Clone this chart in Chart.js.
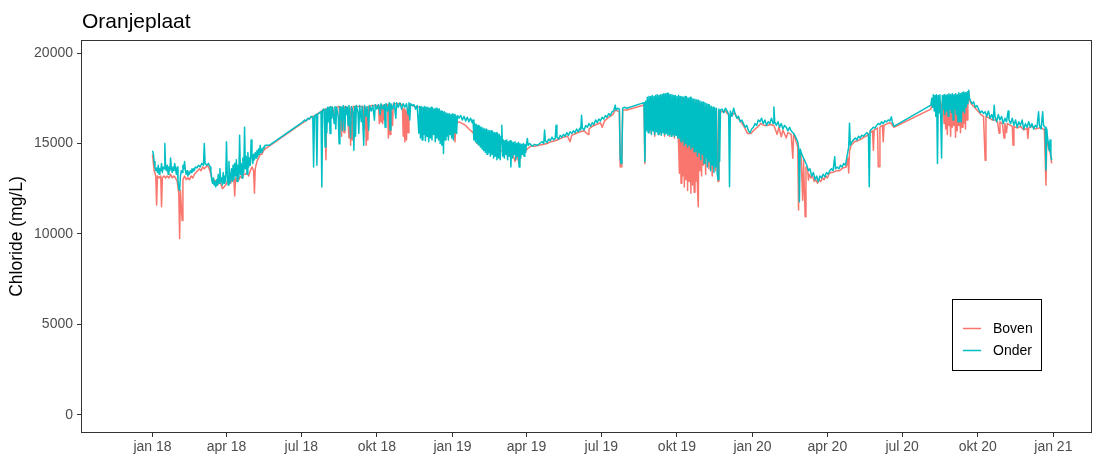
<!DOCTYPE html>
<html><head><meta charset="utf-8">
<script src="https://cdn.jsdelivr.net/npm/chart.js@4.4.1/dist/chart.umd.min.js"></script>
<style>html,body{margin:0;padding:0;background:#fff}#wrap{width:1099px;height:458px;position:relative}</style>
</head><body><div id="wrap"><canvas id="c" width="1099" height="458"></canvas></div>
<script>
const chartTitle = 'Oranjeplaat';
const yTitle = 'Chloride (mg/L)';
const seriesNames = ['Boven', 'Onder'];
const seriesColors = ['#F8766D', '#00BFC4'];
// x = days since 1 Jan 2018
const xTickDays = [0, 90, 181, 273, 365, 455, 546, 638, 730, 821, 912, 1004, 1096];
const xTickLabels = ['jan 18','apr 18','jul 18','okt 18','jan 19','apr 19','jul 19','okt 19','jan 20','apr 20','jul 20','okt 20','jan 21'];
const yTickValues = [0, 5000, 10000, 15000, 20000];

const onder = [
[0,14600],[1,14450],[2,14000],[3,13700],[4,13500],[5,13650],[6,13400],[7,13800],[8,13300],[9,13600],[10,13500],[11,13900],[12,13400],[13,13700],[14,13600],[15,15000],[16,13600],[17,13500],[18,13800],[19,13300],[20,13700],[21,13500],[22,14200],[23,13600],[24,13400],[25,13700],[26,13500],[27,13900],[28,13600],[29,13300],[30,13700],[31,13000],[32,12500],[33,12400],[34,13200],[35,13500],[36,13400],[37,13800],[38,13600],[39,14000],[40,13500],[41,13300],[42,13500],[43,13200],[44,13400],[45,13300],[46,13500],[47,13400],[48,13600],[49,13450],[50,13600],[51,13500],[52,13700],[54,13650],[56,13800],[58,13700],[60,13900],[62,13800],[63,15000],[64,13900],[66,13800],[68,13900],[70,13700],[71,13500],[72,13000],[73,12800],[74,13100],[75,12700],[76,12900],[77,12600],[78,13000],[79,12700],[80,13300],[81,12800],[82,13600],[83,12900],[84,13100],[85,12700],[86,13400],[87,12800],[88,13200],[89,12900],[90,15100],[91,13300],[92,12700],[93,14000],[94,12800],[95,13100],[96,13600],[97,12900],[98,13800],[99,13000],[100,13900],[101,13200],[102,14100],[103,12900],[104,13800],[105,13100],[106,15450],[107,13300],[108,13900],[109,13100],[110,14200],[111,13400],[112,15900],[113,13600],[114,14300],[115,13300],[116,14500],[117,13700],[118,14200],[119,13800],[120,15200],[121,14300],[122,13900],[123,14400],[124,14100],[125,14500],[126,14200],[127,14600],[128,14300],[129,14700],[130,14400],[131,14900],[132,14500],[133,14700],[134,14600],[135,14800],[136,14750],[137,14900],[142,14900],
[183,16200],[185,16300],[187,16250],[189,16400],[191,16350],[193,16500],[195,16450],[196,13700],[197,16500],[199,16600],[200,13800],[201,16600],[203,16700],[205,16750],[206,12600],[207,16800],[208,16900],[209,16850],[210,14800],[211,16900],[212,15600],[213,17000],[214,16200],[215,17000],[216,15550],[217,17050],[218,16400],[219,17000],[221,16100],[222,17050],[223,15800],[224,17000],[226,16500],[227,14980],[228,17050],[229,16300],[230,17000],[231,15700],[232,17100],[233,16800],[234,15740],[235,17050],[236,16600],[237,17000],[238,16000],[239,17100],[241,15300],[242,17050],[244,16700],[245,14630],[246,17050],[247,15400],[248,17100],[250,16700],[251,15550],[252,17100],[254,16200],[255,17050],[257,14900],[258,17100],[260,16500],[261,17050],[263,15740],[264,17100],[266,16800],[268,17100],[270,16290],[271,17150],[273,16900],[275,17150],[277,16600],[278,17200],[280,16900],[282,17150],[283,15900],[284,17200],[286,16800],[288,17250],[289,15740],[290,17200],[292,16900],[294,17250],[296,16400],[297,17250],[299,17000],[301,17250],[303,16900],[305,17200],[307,17000],[309,17200],[311,16600],[312,17250],[313,16300],[314,17200],[316,17100],[318,17150],[320,16900],[322,17100],[324,15570],[325,17050],
[326,15300],[327,17050],[328,15200],[329,17000],[330,15500],[331,17050],[332,15150],[333,17000],[334,15400],[335,17000],[336,15100],[337,16950],[338,15300],[339,17000],[340,15200],[341,16950],[342,15500],[343,16900],[344,15100],[345,16950],[346,15300],[347,16900],[348,15200],[349,16900],[350,15000],[351,16800],[352,14900],[353,16750],[354,14450],[355,16750],[356,15200],[357,16700],[358,15400],[359,16650],[360,15200],[361,16650],[362,15500],[363,16600],[364,15300],[365,16650],[366,15200],[367,16600],[368,15600],[369,16500],[370,15550],[371,16550],[373,16400],[375,16550],[377,16300],[379,16500],[381,16250],[383,16450],[385,16200],[387,16400],[389,16150],[390,16300],[391,15200],[392,16100],[393,15100],[394,16050],[395,15000],[396,16000],[397,14900],[398,15950],[399,14800],[400,15900],[401,14700],[402,15850],[403,14600],[404,15800],[405,14500],[406,15800],[407,14400],[408,15750],[409,14500],[410,15700],[411,14300],[412,15700],[413,14400],[414,15650],[415,14200],[416,15600],[417,14300],[418,15600],[419,14100],[420,15550],[421,14200],[422,15500],[423,14100],[424,15400],[425,16010],[426,14300],[427,15190],[428,14200],[429,15150],[430,14400],[431,15200],[432,14100],[433,15100],[434,14300],[435,15150],[436,13700],[437,15100],[438,14200],[439,15050],[440,14400],[441,15100],[442,14100],[443,15000],[444,14300],[445,15050],[446,13700],[447,15000],[448,14200],[449,14950],[450,14400],[451,15000],[452,14300],[453,14950],[454,14500],[455,15000],[456,15280],[457,14900],[459,15000],[462,14850],[465,14950],[468,14900],[471,15000],
[474,15100],[476,15000],[477,15740],[478,15150],[480,15050],[482,15250],[484,15150],[486,15350],[488,15200],[490,15300],[491,16010],[492,15350],[494,15250],[496,15450],[498,15350],[500,15500],[502,15400],[504,15600],[506,15450],[508,15650],[510,15550],[512,15700],[514,15600],[516,15800],[518,15650],[520,15850],[521,15750],[522,16560],[523,15850],[525,15750],[527,16000],[529,15900],[531,16100],[533,15950],[535,16150],[537,16050],[539,16300],[541,16150],[543,16350],[545,16250],[547,16450],[549,16350],[551,16550],[553,16450],[555,16650],[557,16550],[559,16750],[561,16800],[563,17120],[564,16850],[566,16950],[568,16900],[569,14200],[570,13900],[571,14100],[572,16950],[574,17000],[577,16950],
[596,17230],[598,17250],[599,13990],[600,17350],[601,15700],[602,17550],[603,15600],[604,17600],[605,15740],[606,17600],[607,15500],[608,17650],[609,15700],[610,17600],[611,15500],[612,17650],[613,15650],[614,17700],[615,15500],[616,17650],[617,15600],[618,17700],[619,15460],[620,17700],[621,15600],[622,17750],[623,15500],[624,17750],[625,15550],[626,17780],[627,15460],[628,17750],[629,15500],[630,17700],[631,15400],[632,17700],[633,15500],[634,17650],[635,15400],[636,17650],[637,15450],[638,17600],[639,15300],[640,17650],[641,15290],[642,17600],[643,15100],[644,17600],[645,15200],[646,17550],[647,14900],[648,17600],[649,15000],[650,17550],[651,14800],[652,17500],[653,14900],[654,17550],[655,14700],[656,17500],[657,14800],[658,17450],[659,14540],[660,17450],[661,14600],[662,17400],[663,14300],[664,17400],[665,14500],[666,17350],[667,14100],[668,17300],[669,14400],[670,17300],[671,13900],[672,17250],[673,14200],[674,17200],[675,13700],[676,17150],[677,14000],[678,17100],[679,13500],[680,17050],[681,13800],[682,17000],[683,13400],[684,16950],[685,13700],[686,16950],[687,13350],[688,13000],[689,16900],[690,14000],[691,16850],[693,16900],[695,16700],[697,16950],[699,16800],[701,16600],[702,12610],[703,16800],[705,16500],[707,16950],
[709,16600],[711,16400],[713,16500],[715,16200],[717,16300],[719,16100],[721,15900],[723,16000],[725,15700],[727,15600],[729,15800],[731,15900],[733,16100],[735,16000],[737,16300],[739,16200],[741,16400],[743,16100],[745,16300],[747,16000],[749,16200],[751,16100],[753,16400],[755,16100],[756,17020],[757,16200],[759,16000],[761,16200],[763,15900],[765,16100],[767,15800],[769,16000],[771,15900],[773,15700],[775,15900],[777,15700],[779,15600],[781,15500],
[783,15300],[785,15100],[786,14800],[787,11780],[788,14700],[790,14400],[792,14200],[794,14000],[796,13800],[798,13500],[800,13600],[802,13200],[804,13400],[806,13000],[808,13200],[810,12890],[812,13200],[814,13100],[816,13300],[818,13150],[820,13400],[822,13300],
[824,13500],[826,13600],[828,13500],[830,14270],[831,13600],[833,13700],[835,13600],[837,13800],[839,13700],[841,13900],[843,13800],[845,14300],[847,14800],[848,16120],[849,14900],[851,15100],[853,15200],[855,15300],[857,15200],[859,15400],[861,15300],[863,15460],[865,15400],[867,15500],[869,15600],[871,15500],[872,12610],[873,15700],[875,15800],[877,15900],[879,15850],[881,16000],[883,16100],[885,16050],[887,16200],[889,16100],[891,16250],[893,16200],[895,16300],[897,16250],[899,16470],[900,16200],[902,15950],
[947,17120],[948,17500],[949,17000],[950,17700],[951,16800],[952,17650],[953,16500],[954,17700],[955,13900],[956,17650],[957,16700],[958,17700],[959,16400],[960,14200],[961,17650],[962,16900],[963,17700],[964,16600],[965,17650],[966,16800],[967,17700],[968,16500],[969,17750],[970,16900],[971,17700],[972,16700],[973,17750],[974,16300],[975,17700],[976,16900],[977,17750],[978,16600],[979,17700],[980,16200],[981,17800],[982,16200],[983,17750],[984,16190],[985,17800],[986,16800],[987,17850],[988,16700],[989,17800],[990,17000],[991,17850],[992,17200],[993,17940],[994,17500],
[995,17390],[997,17200],[999,17300],[1001,17000],[1003,17100],[1005,16900],[1007,16700],[1009,16800],[1011,16660],[1013,16750],[1015,16500],[1017,16800],[1019,16400],[1021,16600],[1023,16300],[1024,17120],[1025,16500],[1027,16200],[1029,16600],[1031,16300],[1033,16500],[1035,16100],[1037,16400],[1039,16200],[1041,16800],[1042,16300],[1044,16100],[1046,16400],[1048,16000],[1050,16300],[1052,15900],[1054,16200],[1056,16000],[1058,16300],[1060,15800],[1062,16100],[1064,15900],[1066,16200],[1068,15900],[1070,16100],[1072,15800],[1074,16000],[1076,15900],[1078,16750],[1079,16000],[1081,15800],[1083,16750],[1084,16000],[1086,15900],[1087,13530],[1088,15800],[1089,15300],[1090,15000],[1091,14600],[1092,15200],[1093,14300],[1094,14080]
];

const boven = [
[0,14400],[2,13500],[4,13200],[5,11600],[6,13200],[8,13100],[10,13200],[11,11500],[12,13100],[14,13200],[16,13100],[18,13200],[20,13100],[22,13300],[24,13100],[26,13200],[28,13100],[30,12900],[32,12200],[33,9750],[34,12400],[36,10750],[37,13000],[39,13200],[41,13000],[43,13100],[45,13000],[47,13200],[49,13100],[51,13300],[53,13400],[55,13500],[57,13600],[59,13500],[61,13700],[63,13600],[65,13700],[67,13800],[69,13600],[71,13300],[73,12900],[75,13000],[77,12900],[79,12700],[81,12800],[83,12800],[85,12500],[87,12600],[89,12700],[91,12900],[93,12800],[95,12800],[97,13000],[99,13000],[100,12100],[101,13100],[103,12900],[105,13000],[107,13200],[109,13100],[111,13300],[113,13300],[115,13400],[117,13200],[119,13500],[121,13700],[123,13500],[124,12250],[125,13600],[127,14000],[129,14200],[131,14400],[133,14400],[135,14600],[137,14700],[142,14850],
[183,16150],[188,16300],[193,16450],[198,16550],[203,16700],[207,16850],[210,16900],[211,14100],[212,16900],[215,17000],[219,17000],[222,16500],[224,17000],[227,17050],[228,15800],[229,17000],[230,15400],[231,17000],[233,15600],[234,17050],[237,17000],[239,15300],[240,17000],[241,14900],[242,16900],[243,15200],[244,17050],[248,17050],[252,17050],[256,17050],[258,15800],[259,17000],[260,14900],[261,16500],[262,15200],[263,17050],[267,17100],[271,17100],[275,17100],[276,16100],[277,17100],[278,16200],[279,17150],[280,16100],[281,17100],[282,16300],[283,17150],[286,17150],[287,15300],[288,17100],[289,15500],[290,17150],[292,16000],[293,17200],[297,17200],[301,17200],[304,17150],[305,15400],[306,16900],[307,15100],[308,16800],[309,15200],[310,16900],[311,15600],[312,17100],[316,17100],[320,17050],[325,17000],
[330,16900],[335,16900],[340,16850],[345,16800],[350,16700],[355,16650],[360,16300],[362,15640],[364,16200],[367,16100],[368,15090],[369,16100],[373,16200],[377,16100],[381,16000],[385,15800],[390,15600],[395,15000],[400,14900],[405,14800],[410,14700],[415,14700],[420,14600],[425,14600],[430,14700],[432,14300],[434,14700],[438,14500],[441,14000],[443,14400],[446,13900],[448,14400],[452,14500],[456,14700],[460,14850],[465,14850],[470,14900],
[475,14950],[480,15000],[485,15100],[490,15150],[495,15250],[500,15350],[505,15400],[508,15100],[510,15450],[515,15550],[520,15650],[525,15700],[530,15500],[531,15800],[535,15950],[540,16050],[545,16150],[547,15900],[550,16250],[555,16450],[560,16600],[563,16850],[566,16800],[568,16750],[569,13700],[570,13710],[571,14000],[572,16850],[577,16850],
[596,17100],[598,17150],[599,13900],[600,17250],[605,15600],[606,17500],[611,15400],[612,17550],[617,15500],[618,17600],[623,15400],[624,17650],[629,15400],[630,17600],[635,15300],[636,17550],[640,15000],[641,13350],[642,17500],[643,12800],[644,17500],[645,13200],[646,17450],[647,12600],[648,17450],[649,13000],[650,17400],[651,12400],[652,17400],[653,12900],[654,17350],[655,12250],[656,17350],[657,12700],[658,17300],[659,12300],[660,17300],[661,12900],[662,17250],[663,12500],[664,11500],[665,17200],[666,13500],[667,17150],[668,13200],[669,17100],[670,13800],[671,17050],[673,13300],[674,17000],[677,13600],[678,16950],[681,13200],[682,16900],[685,13500],[686,16850],[688,12900],[689,16800],[692,16750],[697,16800],[702,16500],
[704,16500],[708,16700],[712,16400],[716,16200],[720,15900],[724,15550],[728,15550],[732,15750],[736,15900],[740,16100],[744,16000],[748,16000],[752,16050],[756,16000],[760,15500],[762,15900],[765,15370],[767,15750],[771,15300],[773,15600],[777,15500],[779,14190],[780,15500],[782,15300],
[783,15100],[785,14800],[786,11320],[787,14600],[789,14300],[791,11870],[792,14100],[794,10950],[795,13700],[797,13600],[798,12980],[799,13300],[801,13100],[803,13200],[805,12900],[807,13000],[809,12800],[811,13000],[813,12900],[815,13100],[817,13000],[819,13200],[821,13100],[823,13300],
[825,13400],[828,13400],[832,13500],[836,13500],[840,13650],[844,13700],[846,14200],[847,13370],[848,14600],[850,14900],[854,15100],[858,15150],[862,15250],[866,15350],[870,15450],[873,15600],[876,15700],[877,14630],[878,15750],[882,15850],[883,13710],[884,13710],[885,15900],[888,16000],[889,15090],[890,16000],[894,16100],[898,16150],[902,15900],
[947,16900],[950,17500],[953,16900],[956,17600],[959,16800],[962,17600],[963,16100],[964,17500],[965,15800],[966,17500],[967,15500],[968,17600],[969,16000],[970,17600],[971,15400],[972,17550],[973,15900],[974,17600],[975,16000],[976,17600],[977,15350],[978,17600],[979,15700],[980,17650],[981,16000],[982,17600],[983,15600],[984,17650],[985,15900],[986,17700],[987,16100],[988,17700],[989,15800],[990,17750],[991,16300],[992,17800],[993,17850],[994,17400],
[996,17200],[1000,17000],[1004,16800],[1008,16600],[1011,16500],[1013,14080],[1014,16500],[1018,16400],[1022,16300],[1025,16300],[1028,16200],[1030,15570],[1031,16200],[1034,16100],[1036,15300],[1037,16100],[1039,15600],[1040,16100],[1044,16000],[1046,15950],[1047,14910],[1048,15950],[1052,15850],[1056,15950],[1060,15750],[1064,15850],[1065,15280],[1066,15850],[1070,15950],[1074,15800],[1078,15850],[1082,15850],[1085,15750],[1087,12700],[1088,15300],[1090,14800],[1092,14500],[1094,13900]
];

const FF = '"Liberation Sans", Arial, Helvetica, sans-serif';
const toXY = arr => arr.map(p => ({x: p[0], y: p[1]}));

const deco = {
  id: 'deco',
  afterDraw(chart) {
    const {ctx, chartArea: a} = chart;
    ctx.save();
    ctx.strokeStyle = '#333333';
    ctx.lineWidth = 1;
    ctx.strokeRect(Math.round(a.left) + 0.5, Math.round(a.top) + 0.5, Math.round(a.right - a.left) - 1, Math.round(a.bottom - a.top) - 1);
    ctx.fillStyle = '#000';
    ctx.font = '21px ' + FF;
    ctx.textAlign = 'left';
    ctx.textBaseline = 'alphabetic';
    ctx.fillText(chartTitle, 82, 28);
    ctx.strokeStyle = '#000';
    ctx.lineWidth = 1;
    ctx.strokeRect(952.5, 299.5, 89, 71);
    const rows = [328.5, 350.5];
    ctx.font = '14px ' + FF;
    ctx.textBaseline = 'middle';
    seriesNames.forEach((n, i) => {
      ctx.strokeStyle = seriesColors[i];
      ctx.lineWidth = 1.5;
      ctx.beginPath();
      ctx.moveTo(963, rows[i]);
      ctx.lineTo(981, rows[i]);
      ctx.stroke();
      ctx.fillStyle = '#000';
      ctx.fillText(n, 993, rows[i] + 0.5);
    });
    ctx.restore();
  }
};

const tickGrid = {display: true, drawOnChartArea: false, drawTicks: true, tickLength: 4, tickColor: '#333333', tickWidth: 1, color: '#333333'};

new Chart(document.getElementById('c'), {
  type: 'line',
  data: {
    datasets: [
      {label: seriesNames[1], data: toXY(onder), borderColor: seriesColors[1], backgroundColor: seriesColors[1], order: 0},
      {label: seriesNames[0], data: toXY(boven), borderColor: seriesColors[0], backgroundColor: seriesColors[0], order: 1}
    ]
  },
  options: {
    responsive: false,
    animation: false,
    devicePixelRatio: 1,
    parsing: false,
    normalized: true,
    layout: {padding: {top: 40, right: 7, left: 0, bottom: 0}},
    elements: {point: {radius: 0}, line: {tension: 0, borderWidth: 1.5, borderJoinStyle: 'round'}},
    plugins: {legend: {display: false}, tooltip: {enabled: false}, title: {display: false}},
    scales: {
      x: {
        type: 'linear', min: -87, max: 1143,
        afterBuildTicks: s => { s.ticks = xTickDays.map(v => ({value: v})); },
        afterFit: s => { s.height = 25; },
        ticks: {autoSkip: false, maxRotation: 0, minRotation: 0, color: '#4D4D4D', font: {family: FF, size: 14}, padding: 2,
                callback: (v, i) => xTickLabels[i]},
        grid: tickGrid,
        border: {display: false}
      },
      y: {
        type: 'linear', min: -1000, max: 20720,
        afterBuildTicks: s => { s.ticks = yTickValues.map(v => ({value: v})); },
        afterFit: s => { s.width = 81; },
        ticks: {color: '#4D4D4D', font: {family: FF, size: 14}, padding: 4, callback: v => String(v)},
        grid: tickGrid,
        border: {display: false},
        title: {display: true, text: yTitle, color: '#000', font: {family: FF, size: 17.5}, padding: {top: 7, bottom: 0}}
      }
    }
  },
  plugins: [deco]
});
</script>
</body></html>
